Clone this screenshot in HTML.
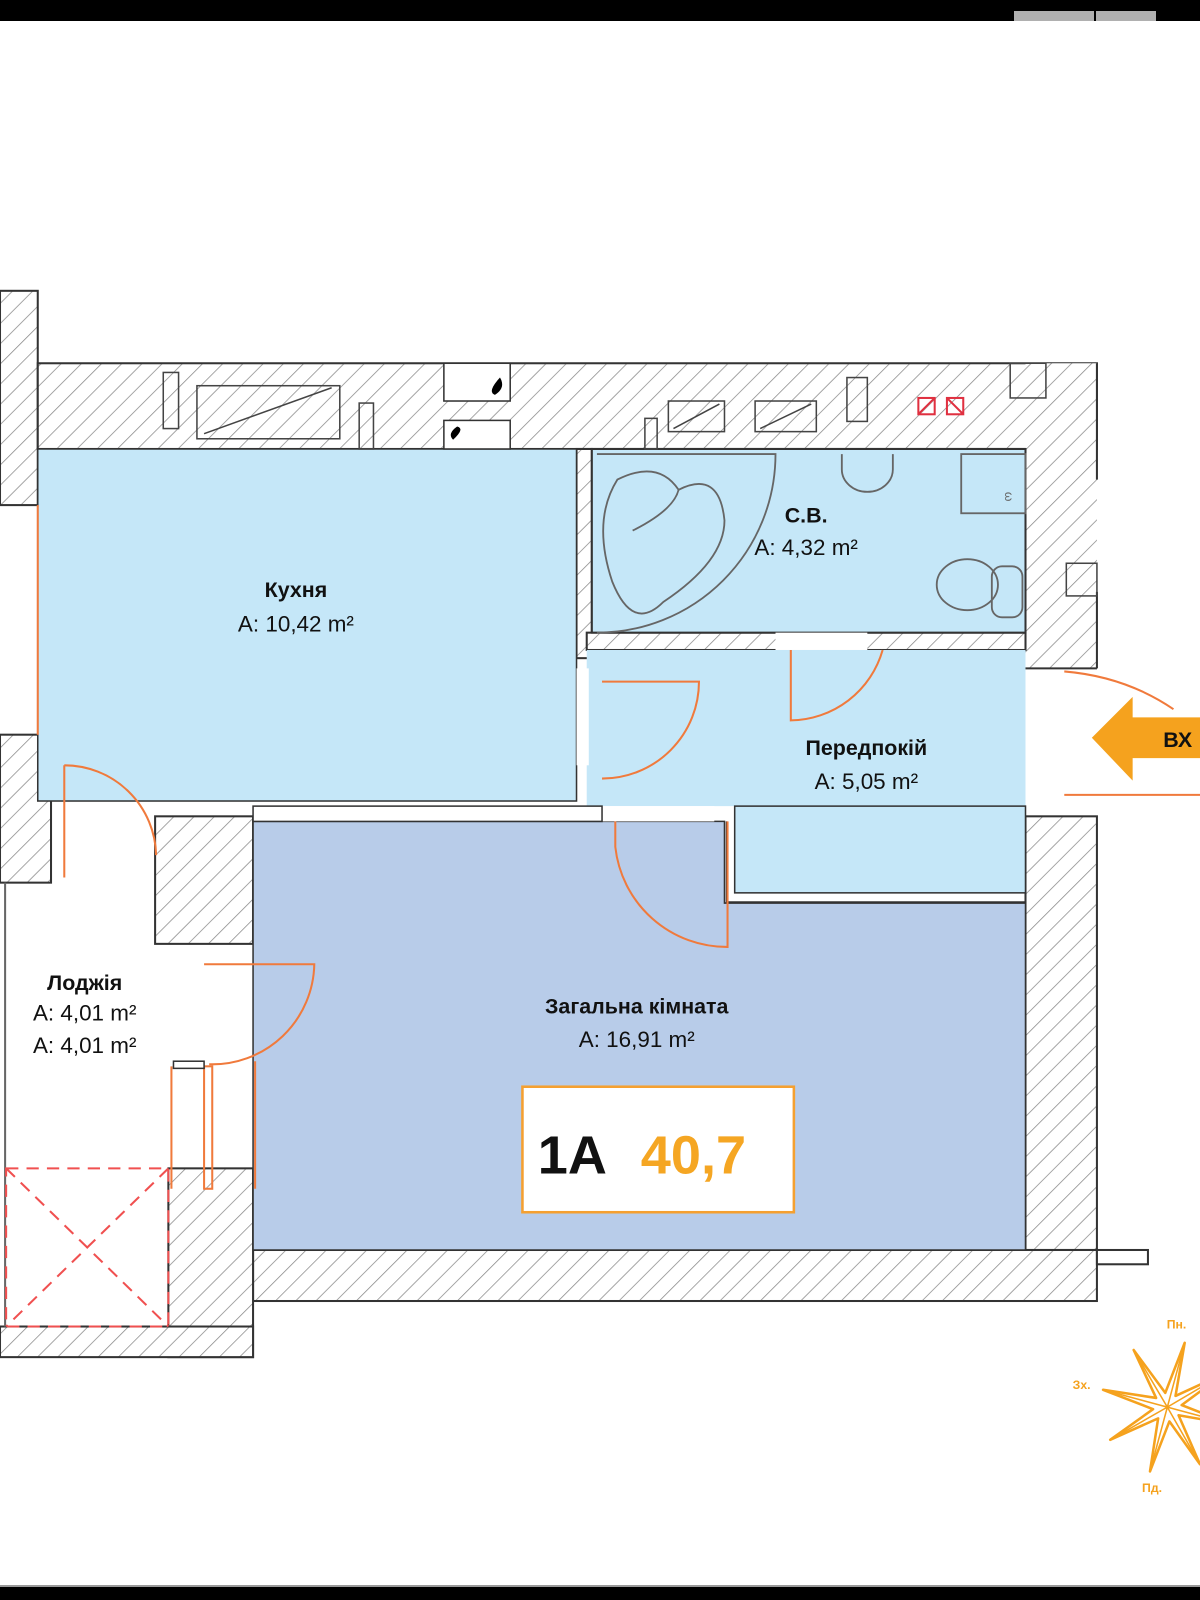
<!DOCTYPE html>
<html><head><meta charset="utf-8">
<style>
html,body{margin:0;padding:0;background:#fff;}
svg{display:block;}
text{font-family:"Liberation Sans",Arial,sans-serif;}
</style></head>
<body>
<svg width="1200" height="1600" viewBox="0 0 1200 1600" xmlns="http://www.w3.org/2000/svg">
<defs>
<pattern id="h" patternUnits="userSpaceOnUse" width="14" height="14" patternTransform="rotate(45)">
<rect width="14" height="14" fill="#fff"/>
<line x1="0" y1="0" x2="0" y2="14" stroke="#8a8a8a" stroke-width="1.5"/>
</pattern>
</defs>
<rect width="1200" height="1600" fill="#fff"/>
<g transform="scale(1.0204)">
<g stroke="#333" stroke-width="2">
<rect x="0" y="285" width="37" height="210" fill="url(#h)"/>
<rect x="37" y="356" width="1038" height="84" fill="url(#h)"/>
<rect x="1005" y="356" width="70" height="299" fill="url(#h)" stroke="none"/>
<line x1="1075" y1="356" x2="1075" y2="470"/>
<line x1="1075" y1="580" x2="1075" y2="655"/>
<line x1="1005" y1="655" x2="1075" y2="655"/>
<rect x="565" y="440" width="15" height="205" fill="url(#h)"/>
<rect x="575" y="620" width="430" height="17" fill="url(#h)"/>
<rect x="1005" y="800" width="70" height="425" fill="url(#h)"/>
<rect x="248" y="1225" width="827" height="50" fill="url(#h)"/>
<rect x="1075" y="1225" width="50" height="14" fill="#fff"/>
<rect x="0" y="720" width="50" height="145" fill="url(#h)"/>
<rect x="152" y="800" width="96" height="125" fill="url(#h)"/>
<rect x="165" y="1145" width="83" height="185" fill="url(#h)"/>
<rect x="0" y="1300" width="248" height="30" fill="url(#h)"/>
</g>
<line x1="5" y1="865" x2="5" y2="1300" stroke="#666" stroke-width="2"/>

<rect x="37" y="440" width="528" height="345" fill="#c5e7f8" stroke="#333" stroke-width="1.5"/>
<rect x="580" y="440" width="425" height="180" fill="#c5e7f8" stroke="#333" stroke-width="2"/>
<rect x="575" y="637" width="430" height="153" fill="#c5e7f8"/>
<rect x="720" y="790" width="285" height="85" fill="#c5e7f8" stroke="#333" stroke-width="1.5"/>
<path d="M248 805 L710 805 L710 885 L1005 885 L1005 1225 L248 1225 Z" fill="#b8cce9" stroke="#333" stroke-width="1.5"/>
<path d="M712 805 L712 884 L1005 884" fill="none" stroke="#333" stroke-width="1.5"/>
<rect x="565" y="655" width="12" height="95" fill="#fff"/>
<rect x="760" y="620" width="90" height="17" fill="#fff"/>
<rect x="590" y="790" width="110" height="15" fill="#fff"/>
<rect x="248" y="790" width="342" height="15" fill="#fff" stroke="#333" stroke-width="1.5"/>

<rect x="435" y="356" width="65" height="37" fill="#fff" stroke="#333" stroke-width="1.5"/>
<rect x="435" y="412" width="65" height="28" fill="#fff" stroke="#333" stroke-width="1.5"/>
<path d="M490 370 q6 10 -5 17 q-8 -3 5 -17z" fill="#000"/>
<path d="M448 418 q8 2 -4 13 q-6 -6 4 -13z" fill="#000"/>
<g fill="none" stroke="#444" stroke-width="1.5">
<rect x="193" y="378" width="140" height="52"/><line x1="200" y1="425" x2="325" y2="380"/>
<rect x="160" y="365" width="15" height="55"/>
<rect x="352" y="395" width="14" height="45"/>
<rect x="632" y="410" width="12" height="30"/>
<rect x="655" y="393" width="55" height="30"/><line x1="660" y1="420" x2="705" y2="396"/>
<rect x="740" y="393" width="60" height="30"/><line x1="745" y1="420" x2="795" y2="396"/>
<rect x="830" y="370" width="20" height="43"/>
<rect x="990" y="356" width="35" height="34"/>
<rect x="1045" y="552" width="30" height="32"/>
</g>
<g fill="none" stroke="#e03040" stroke-width="2">
<rect x="900" y="390" width="16" height="16"/><line x1="900" y1="406" x2="916" y2="390"/>
<rect x="928" y="390" width="16" height="16"/><line x1="928" y1="390" x2="944" y2="406"/>
</g>
<g fill="none" stroke="#666" stroke-width="1.8">
<path d="M585 445 L760 445 A175 175 0 0 1 585 620"/>
<path d="M605 470 q40 -20 60 10 q40 -20 45 30 q0 40 -60 80 q-30 30 -50 -20 q-20 -60 5 -100z"/>
<path d="M620 520 q40 -20 45 -40"/>
<path d="M825 445 v15 a25 22 0 0 0 50 0 v-15"/>
<rect x="942" y="445" width="63" height="58"/>
<ellipse cx="948" cy="573" rx="30" ry="25"/>
<rect x="972" y="555" width="30" height="50" rx="10"/>
</g>
<text x="985" y="482" font-size="12" fill="#666" transform="rotate(90 985 482)">ω</text>

<g fill="none" stroke="#f07a3c" stroke-width="2">
<line x1="37" y1="495" x2="37" y2="720"/>
<path d="M590 668 L685 668 A95 95 0 0 1 590 763"/>
<path d="M775 637 L775 706 A95 95 0 0 0 865 637"/>
<path d="M603 805 L603 830 A110 110 0 0 0 713 928 L713 805"/>
<path d="M63 750 L63 860"/><path d="M63 750 A90 90 0 0 1 153 838"/>
<path d="M200 945 L308 945 A100 100 0 0 1 205 1043"/>
<rect x="200" y="1045" width="8" height="120"/>
<line x1="168" y1="1045" x2="168" y2="1165"/>
<line x1="250" y1="1040" x2="250" y2="1165"/>
<path d="M1043 658 q60 5 107 37"/>
<line x1="1043" y1="779" x2="1200" y2="779"/>
</g>
<rect x="170" y="1040" width="30" height="7" fill="#fff" stroke="#333" stroke-width="1.5"/>
<g fill="none" stroke="#f05050" stroke-width="2" stroke-dasharray="12 8">
<rect x="6" y="1145" width="159" height="155"/>
<line x1="6" y1="1145" x2="165" y2="1300"/><line x1="165" y1="1145" x2="6" y2="1300"/>
</g>

<g text-anchor="middle" fill="#111">
<text x="290" y="585" font-size="21" font-weight="bold">Кухня</text>
<text x="290" y="619" font-size="22">A: 10,42 m²</text>
<text x="790" y="512" font-size="21" font-weight="bold">С.В.</text>
<text x="790" y="544" font-size="22">A: 4,32 m²</text>
<text x="849" y="740" font-size="21" font-weight="bold">Передпокій</text>
<text x="849" y="773" font-size="22">A: 5,05 m²</text>
<text x="624" y="993" font-size="21" font-weight="bold">Загальна кімната</text>
<text x="624" y="1026" font-size="22">A: 16,91 m²</text>
<text x="83" y="970" font-size="21" font-weight="bold">Лоджія</text>
<text x="83" y="1000" font-size="22">A: 4,01 m²</text>
<text x="83" y="1032" font-size="22">A: 4,01 m²</text>
</g>
<rect x="512" y="1065" width="266" height="123" fill="#fff" stroke="#f5a030" stroke-width="2.5"/>
<text x="527" y="1150" font-size="53" font-weight="bold" fill="#111">1А</text>
<text x="628" y="1150" font-size="53" font-weight="bold" fill="#f5a623">40,7</text>

<path d="M1070 723 L1110 683 L1110 703 L1200 703 L1200 743 L1110 743 L1110 765 Z" fill="#f5a21e"/>
<text x="1140" y="732" font-size="21" font-weight="bold" fill="#111">ВХ</text>

<g fill="none" stroke="#f5a21e" stroke-width="2.5" stroke-linejoin="round">
<polygon points="1161,1316 1152,1368 1200,1346 1158,1377 1207,1396 1155,1387 1176,1435 1146,1393 1127,1442 1135,1390 1088,1411 1130,1381 1081,1362 1133,1370 1111,1323 1142,1365"/>
<path d="M1144 1379 L1161 1316 M1144 1379 L1200 1346 M1144 1379 L1207 1396 M1144 1379 L1176 1435 M1144 1379 L1127 1442 M1144 1379 L1088 1411 M1144 1379 L1081 1362 M1144 1379 L1111 1323" stroke-width="1.5"/>
</g>
<g font-size="12" fill="#f5a21e" font-weight="bold" text-anchor="middle">
<text x="1153" y="1302">Пн.</text>
<text x="1060" y="1361">Зх.</text>
<text x="1129" y="1462">Пд.</text>
</g>
</g>
<rect x="0" y="0" width="1200" height="21" fill="#000"/>
<rect x="1014" y="11" width="80" height="10" fill="#b0b0b0"/>
<rect x="1096" y="11" width="60" height="10" fill="#b0b0b0"/>
<rect x="0" y="1585" width="1200" height="2" fill="#999"/>
<rect x="0" y="1587" width="1200" height="13" fill="#000"/>
</svg>
</body></html>
